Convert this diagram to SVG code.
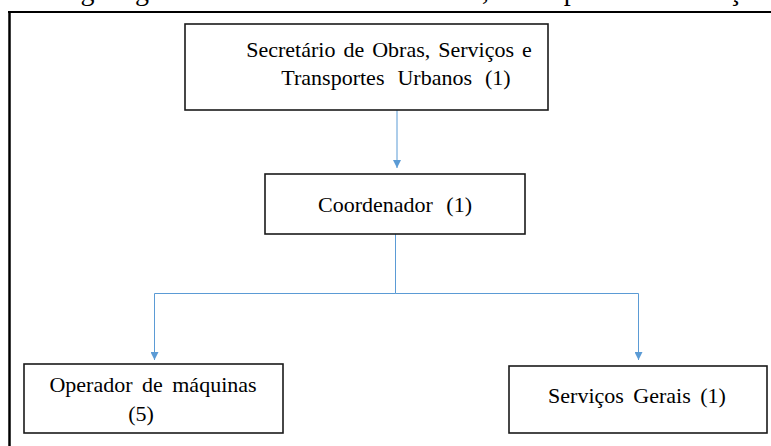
<svg xmlns="http://www.w3.org/2000/svg" width="771" height="446" viewBox="0 0 771 446">
<defs>
<style>
.box{fill:#fff;stroke:#1a1a1a;stroke-width:1.6}
.t{font-family:'Liberation Serif',serif;font-size:22px;fill:#000;text-anchor:middle}
.c{fill:none;stroke:#5B9BD5;stroke-width:1}
</style>
<marker id="ah" viewBox="0 0 10 10" refX="10" refY="5" markerWidth="8" markerHeight="8" markerUnits="userSpaceOnUse" orient="auto">
<path d="M0,0 L10,5 L0,10 Z" fill="#5B9BD5"/>
</marker>
</defs>
<rect x="0" y="0" width="771" height="446" fill="#fff"/>
<text x="25" y="0" font-family="'Liberation Serif',serif" font-size="28" word-spacing="5.5">O organograma da secretaria de Obras, Transportes e Serviços</text>
<g id="frame">
<line x1="9.5" y1="11" x2="9.5" y2="446" stroke="#000" stroke-width="2.5"/>
<line x1="8" y1="12" x2="771" y2="12" stroke="#000" stroke-width="2"/>
</g>
<g id="connectors">
<line class="c" x1="397" y1="110" x2="397" y2="168" marker-end="url(#ah)"/>
<polyline class="c" points="395.5,234 395.5,293.5 154.5,293.5 154.5,360" marker-end="url(#ah)"/>
<polyline class="c" points="395.5,293.5 638.5,293.5 638.5,360" marker-end="url(#ah)"/>
</g>
<g id="secretario">
<rect class="box" x="185" y="24" width="363" height="86"/>
<text class="t" x="389" y="57" word-spacing="2.5">Secretário de Obras, Serviços e</text>
<text class="t" x="396" y="85" word-spacing="7.5">Transportes Urbanos (1)</text>
</g>
<g id="coordenador">
<rect class="box" x="265" y="174" width="260" height="60"/>
<text class="t" x="395" y="212" word-spacing="8">Coordenador (1)</text>
</g>
<g id="operador">
<rect class="box" x="24" y="364" width="259" height="69"/>
<text class="t" x="153" y="392" word-spacing="4">Operador de máquinas</text>
<text class="t" x="141" y="421">(5)</text>
</g>
<g id="servicos">
<rect class="box" x="509" y="366" width="258" height="67"/>
<text class="t" x="637" y="403" word-spacing="4">Serviços Gerais (1)</text>
</g>
</svg>
